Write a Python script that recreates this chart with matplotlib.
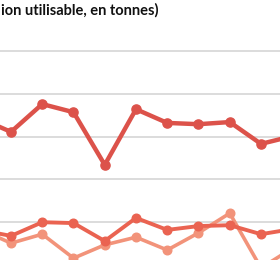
import matplotlib
matplotlib.use("Agg")
import matplotlib.pyplot as plt

years = list(range(0, 11))
serie_a = [343, 311, 376, 357, 234, 364, 332, 329, 334, 283, 301]
serie_b = [82, 68, 100, 98, 56, 110, 82, 91, 93, 72, 84]
serie_c = [84, 51, 72, 16, 47, 65, 35, 75, 121, -7, 39]
offset = 100
serie_a = [v + offset for v in serie_a]
serie_b = [v + offset for v in serie_b]
serie_c = [v + offset for v in serie_c]
grid_vals = [200, 300, 400, 500, 600]
title = "ion utilisable, en tonnes)"

fig = plt.figure(figsize=(2.8, 2.6), dpi=100)
ax = fig.add_axes([0, 0, 1, 1])
for g in grid_vals:
    ax.axhline(g, color="#d9d9d9", lw=1.3, zorder=0)

ax.plot(years, serie_c, color="#f2937a", lw=2.6, marker="o", ms=6.2, zorder=2)
ax.plot(years, serie_b, color="#ea6351", lw=2.8, marker="o", ms=6.2, zorder=3)
ax.plot(years, serie_a, color="#dc524a", lw=3.2, marker="o", ms=6.6, zorder=4)

ax.set_xlim(0.648, 9.608)
ax.set_ylim(111.7, 719.2)
ax.axis("off")
fig.text(0.003, 1 - 15 / 260, title, fontsize=10.5, fontweight="bold",
         family="Lato", color="#111111", ha="left", va="baseline")
fig.savefig("out.png", dpi=100, facecolor="white")
